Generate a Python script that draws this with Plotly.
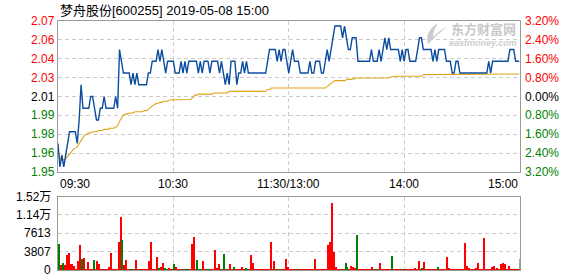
import plotly.graph_objects as go

W, H = 578, 276

# ---------------- data ----------------
prev_close = 2.01
minutes = list(range(241))

price = [
    1.97, 1.95, 1.96, 1.95, 1.96, 1.97, 1.98, 1.98, 1.98, 1.98,
    1.97, 1.99, 2.02, 2.00, 2.00, 2.00, 2.00, 2.01, 2.01, 2.00,
    1.99, 1.99, 2.00, 2.00, 2.01, 2.00, 2.00, 2.00, 2.00, 2.00,
    2.01, 2.00, 2.05, 2.04, 2.03, 2.03, 2.03, 2.03, 2.02, 2.03,
    2.02, 2.03, 2.02, 2.02, 2.02, 2.02, 2.02, 2.03, 2.03, 2.04,
    2.04, 2.04, 2.05, 2.04, 2.05, 2.04, 2.03, 2.04, 2.04, 2.04,
    2.04, 2.03, 2.03, 2.03, 2.04, 2.03, 2.04, 2.03, 2.04, 2.04,
    2.04, 2.04, 2.04, 2.03, 2.04, 2.03, 2.04, 2.04, 2.04, 2.03,
    2.04, 2.04, 2.04, 2.04, 2.03, 2.04, 2.03, 2.02, 2.03, 2.02,
    2.04, 2.04, 2.04, 2.02, 2.03, 2.03, 2.04, 2.03, 2.04, 2.03,
    2.03, 2.03, 2.03, 2.03, 2.03, 2.03, 2.03, 2.03, 2.03, 2.04,
    2.05, 2.05, 2.05, 2.05, 2.04, 2.05, 2.04, 2.05, 2.05, 2.04,
    2.03, 2.04, 2.05, 2.04, 2.04, 2.04, 2.03, 2.03, 2.03, 2.03,
    2.03, 2.04, 2.03, 2.03, 2.04, 2.04, 2.04, 2.03, 2.03, 2.04,
    2.05, 2.04, 2.05, 2.06, 2.07, 2.07, 2.07, 2.07, 2.06, 2.07,
    2.06, 2.05, 2.05, 2.06, 2.06, 2.06, 2.04, 2.04, 2.04, 2.04,
    2.04, 2.04, 2.04, 2.05, 2.04, 2.04, 2.04, 2.05, 2.04, 2.05,
    2.06, 2.05, 2.06, 2.05, 2.05, 2.05, 2.05, 2.05, 2.04, 2.05,
    2.04, 2.05, 2.05, 2.04, 2.04, 2.04, 2.04, 2.05, 2.06, 2.06,
    2.05, 2.05, 2.05, 2.05, 2.05, 2.04, 2.05, 2.04, 2.05, 2.05,
    2.05, 2.05, 2.04, 2.04, 2.04, 2.03, 2.03, 2.04, 2.04, 2.03,
    2.03, 2.03, 2.03, 2.03, 2.03, 2.03, 2.03, 2.03, 2.03, 2.03,
    2.03, 2.03, 2.03, 2.03, 2.04, 2.03, 2.04, 2.04, 2.04, 2.04,
    2.04, 2.04, 2.04, 2.04, 2.04, 2.05, 2.05, 2.05, 2.04, 2.04,
    2.04,
]

avg_price = [
    1.963, 1.958, 1.956, 1.956, 1.957, 1.959, 1.962, 1.964, 1.965, 1.966,
    1.967, 1.970, 1.973, 1.975, 1.977, 1.978, 1.979, 1.979, 1.980, 1.980,
    1.980, 1.981, 1.981, 1.981, 1.982, 1.982, 1.982, 1.983, 1.983, 1.983,
    1.984, 1.985, 1.989, 1.992, 1.994, 1.995, 1.995, 1.996, 1.996, 1.996,
    1.997, 1.997, 1.997, 1.997, 1.997, 1.998, 1.998, 1.999, 2.001, 2.002,
    2.003, 2.004, 2.004, 2.005, 2.005, 2.006, 2.006, 2.006, 2.007, 2.007,
    2.0075, 2.0075, 2.0075, 2.0075, 2.0075, 2.0075, 2.0075, 2.0075, 2.0075, 2.0075,
    2.009, 2.011, 2.011, 2.012, 2.012, 2.012, 2.012, 2.012, 2.012, 2.012,
    2.012, 2.013, 2.013, 2.013, 2.013, 2.013, 2.013, 2.013, 2.013, 2.0144,
    2.0144, 2.0144, 2.0144, 2.0144, 2.0144, 2.0144, 2.0144, 2.0144, 2.0144, 2.0144,
    2.0144, 2.0144, 2.0144, 2.0144, 2.0144, 2.0144, 2.0144, 2.0144, 2.0144, 2.016,
    2.016, 2.0172, 2.0172, 2.0172, 2.0172, 2.0172, 2.0172, 2.0172, 2.0172, 2.0172,
    2.0172, 2.0172, 2.0172, 2.0172, 2.0172, 2.0172, 2.0172, 2.0172, 2.0172, 2.0172,
    2.0172, 2.0172, 2.0172, 2.0172, 2.0172, 2.0172, 2.0172, 2.0172, 2.0172, 2.0172,
    2.0186, 2.020, 2.0215, 2.0225, 2.0235, 2.0235, 2.0235, 2.0235, 2.0235, 2.0235,
    2.0244, 2.0244, 2.0244, 2.025, 2.025, 2.0258, 2.0258, 2.0258, 2.0258, 2.0258,
    2.0258, 2.0258, 2.0258, 2.0258, 2.0258, 2.0258, 2.0258, 2.0258, 2.0258, 2.0258,
    2.0258, 2.0258, 2.0258, 2.0266, 2.0272, 2.0272, 2.0272, 2.0272, 2.0272, 2.0272,
    2.0272, 2.0272, 2.0272, 2.0272, 2.0272, 2.0272, 2.0272, 2.0272, 2.0272, 2.0272,
    2.0286, 2.0286, 2.0286, 2.0286, 2.0286, 2.0286, 2.0286, 2.0286, 2.0286, 2.0286,
    2.0286, 2.0286, 2.0286, 2.0286, 2.0286, 2.0286, 2.0286, 2.0286, 2.0286, 2.0286,
    2.0286, 2.0286, 2.0286, 2.0286, 2.0286, 2.0286, 2.0286, 2.0286, 2.0286, 2.0286,
    2.0286, 2.0286, 2.0286, 2.0286, 2.0286, 2.0286, 2.0286, 2.0286, 2.0286, 2.0286,
    2.0286, 2.0286, 2.0286, 2.0286, 2.0292, 2.0292, 2.0292, 2.0292, 2.0292, 2.0292,
    2.0292,
]

volume = [
    5557, 1235, 1578, 1235, 3293, 3704, 1440, 1440, 1029, 200,
    2058, 5351, 2470, 2675, 412, 1852, 220, 220, 2264, 200,
    2058, 1440, 200, 200, 200, 200, 823, 3704, 200, 200,
    200, 5968, 11113, 6380, 1235, 2264, 200, 412, 412, 200,
    2264, 412, 200, 200, 200, 200, 200, 2058, 5968, 200,
    200, 2881, 617, 823, 1646, 617, 412, 617, 412, 200,
    1440, 823, 200, 200, 200, 200, 200, 200, 200, 5557,
    6997, 200, 2264, 200, 200, 2058, 200, 200, 412, 200,
    200, 4322, 617, 1440, 412, 200, 3499, 200, 200, 1440,
    200, 823, 200, 200, 200, 823, 200, 617, 200, 200,
    3293, 1646, 200, 200, 200, 200, 200, 200, 200, 200,
    5968, 200, 2058, 200, 200, 200, 200, 200, 2470, 823,
    200, 200, 412, 200, 200, 200, 200, 200, 200, 200,
    200, 200, 200, 2470, 200, 200, 200, 200, 200, 200,
    5351, 5968, 13994, 3910, 823, 412, 200, 200, 200, 1646,
    823, 200, 1029, 823, 617, 7409, 200, 200, 200, 200,
    200, 200, 200, 823, 200, 200, 200, 1646, 200, 412,
    200, 200, 200, 3087, 200, 200, 412, 200, 200, 200,
    200, 200, 200, 200, 200, 617, 412, 2058, 200, 617,
    1852, 200, 200, 200, 200, 200, 200, 823, 200, 412,
    200, 200, 2881, 617, 200, 200, 200, 200, 200, 200,
    200, 5762, 1029, 617, 200, 200, 200, 617, 1646, 200,
    200, 6791, 200, 200, 200, 823, 1029, 200, 617, 200,
    1440, 1646, 1440, 200, 1029, 200, 200, 200, 200, 200,
    2470,
]

# 'r' = up tick (red), 'g' = down tick (green)
volume_dir = list(
    "grgrrrrrrr" "rrgrrrrrgr" "rrrrrrrrrr" "rrrgrrrggr" "rgrrrrrrrr"
    "rrgrrggrrr" "grrrgrggrr" "rrgggrrggr" "rrrrgrgrgr" "rgrrrrrggr"
    "rrrrrrrrrr" "rrrgrgrrrr" "rrrgrgrrrr" "rrrrrrrrrr" "rrrrrrrgrg"
    "grrrrgrrrr" "rrrrgrgrrr" "rrrgrrrrrg" "rrrrrrrrrg" "rrrrrrrgrr"
    "rrrrrrrrrr" "rrrrrrrrrr" "rrrrrrrrrr" "rrrrrrrrrr" "g"
)

price_tick_labels = ["2.07", "2.06", "2.04", "2.03", "2.01", "1.99", "1.98", "1.96", "1.95"]
pct_tick_labels = ["3.20%", "2.40%", "1.60%", "0.80%", "0.00%", "0.80%", "1.60%", "2.40%", "3.20%"]
vol_tick_labels = ["1.52万", "1.14万", "7613", "3807", "0"]
time_labels = ["09:30", "10:30", "11:30/13:00", "14:00", "15:00"]
time_positions = [0, 60, 120, 180, 240]
title_text = "梦舟股份[600255] 2019-05-08 15:00"

# ---------------- styling ----------------
RED = "#ff0000"
GREEN = "#008000"
BLACK = "#000000"
FRAME = "#999999"
GRID = "#cccccc"
FONT = "Liberation Sans, Arial, Noto Sans CJK SC"

pct_step = 0.008
n_side = 4
price_lo = prev_close * (1 - pct_step * n_side)
price_hi = prev_close * (1 + pct_step * n_side)
price_ticks = [prev_close * (1 + pct_step * k) for k in range(n_side, -n_side - 1, -1)]

vol_max = 15226
vol_ticks = [vol_max * k / 4 for k in range(4, -1, -1)]

x0p, x1p = 58.0 / W, 519.5 / W
main_dom = [1 - 172.0 / H, 1 - 21.0 / H]
vol_dom = [1 - 270.0 / H, 1 - 196.5 / H]


def px(x):
    return x / W


def py(y):
    return 1 - y / H


def side_color(i):
    if i < n_side:
        return RED
    if i == n_side:
        return BLACK
    return GREEN


fig = go.Figure()

fig.add_trace(go.Bar(
    x=minutes, y=volume, xaxis="x2", yaxis="y2",
    marker=dict(color=[RED if d == "r" else GREEN for d in volume_dir], line=dict(width=0)),
    width=0.6, offset=0.25, hoverinfo="skip",
))
fig.add_trace(go.Scatter(
    x=minutes, y=avg_price, mode="lines",
    line=dict(color="#e0a418", width=1.1), hoverinfo="skip",
))
fig.add_trace(go.Scatter(
    x=minutes, y=price, mode="lines",
    line=dict(color="#0b4d9e", width=1.4), hoverinfo="skip",
))

axis_common = dict(
    showline=True, mirror=True, linecolor=FRAME, linewidth=1,
    zeroline=False, ticks="", showticklabels=False,
    showgrid=True, gridcolor=GRID, gridwidth=1, griddash="4px,3px",
)

fig.update_layout(
    width=W, height=H,
    margin=dict(l=0, r=0, t=0, b=0),
    paper_bgcolor="white", plot_bgcolor="white",
    showlegend=False, bargap=0,
    font=dict(family=FONT, size=12, color=BLACK),
    xaxis=dict(domain=[x0p, x1p], range=[0, 240], tickvals=[60, 120, 180], anchor="y", **axis_common),
    yaxis=dict(domain=main_dom, range=[price_lo, price_hi], tickvals=price_ticks[1:-1], anchor="x", **axis_common),
    xaxis2=dict(domain=[x0p, x1p], range=[0, 240], tickvals=[60, 120, 180], anchor="y2", **axis_common),
    yaxis2=dict(domain=vol_dom, range=[0, vol_max], tickvals=vol_ticks[1:-1], anchor="x2", **axis_common),
)

ann = []
# title
ann.append(dict(text=title_text, xref="paper", yref="paper", x=px(58), y=py(10),
                xanchor="left", yanchor="middle", showarrow=False,
                font=dict(family="Liberation Sans, Noto Sans CJK SC", size=13, color=BLACK)))
# price / percent labels
for i, (t, lab, plab) in enumerate(zip(price_ticks, price_tick_labels, pct_tick_labels)):
    c = side_color(i)
    ann.append(dict(text=lab, xref="paper", yref="y", x=px(56.5), y=t,
                    xanchor="right", yanchor="middle", showarrow=False,
                    font=dict(size=12, color=c)))
    ann.append(dict(text=plab, xref="paper", yref="y", x=px(523), y=t,
                    xanchor="left", yanchor="middle", showarrow=False,
                    font=dict(size=12, color=c)))
# time labels
for pos, lab in zip(time_positions, time_labels):
    anchor = "left" if pos == 0 else ("right" if pos == 240 else "center")
    ann.append(dict(text=lab, xref="x", yref="paper", x=pos, y=py(183.5),
                    xanchor=anchor, yanchor="middle", showarrow=False,
                    font=dict(size=12, color=BLACK)))
# volume labels
for t, lab in zip(vol_ticks, vol_tick_labels):
    ann.append(dict(text=lab, xref="paper", yref="y2", x=px(53), y=t,
                    xanchor="right", yanchor="middle", showarrow=False,
                    font=dict(size=12, color=BLACK)))
# watermark
ann.append(dict(text="<b>东方财富网</b>", xref="paper", yref="paper", x=px(483), y=py(28),
                xanchor="center", yanchor="middle", showarrow=False, borderpad=0,
                font=dict(family="Noto Sans CJK SC", size=13, color="#c8c8c8")))
ann.append(dict(text="<b><i>eastmoney.com</i></b>", xref="paper", yref="paper", x=px(483), y=py(43),
                xanchor="center", yanchor="middle", showarrow=False, borderpad=0,
                font=dict(family="Liberation Sans", size=9, color="#cdcdcd")))
fig.update_layout(annotations=ann)

# watermark swoosh
fig.add_shape(type="path", xref="paper", yref="paper",
              path=(f"M {px(428)},{py(44)} Q {px(424)},{py(32)} {px(438)},{py(23)} "
                    f"Q {px(433)},{py(31)} {px(433)},{py(37)} "
                    f"Q {px(440)},{py(30)} {px(447)},{py(27)} "
                    f"Q {px(436)},{py(35)} {px(428)},{py(44)} Z"),
              fillcolor="#cccccc", line=dict(width=0), layer="above")

fig.write_html("out.html", config={"displayModeBar": False})
